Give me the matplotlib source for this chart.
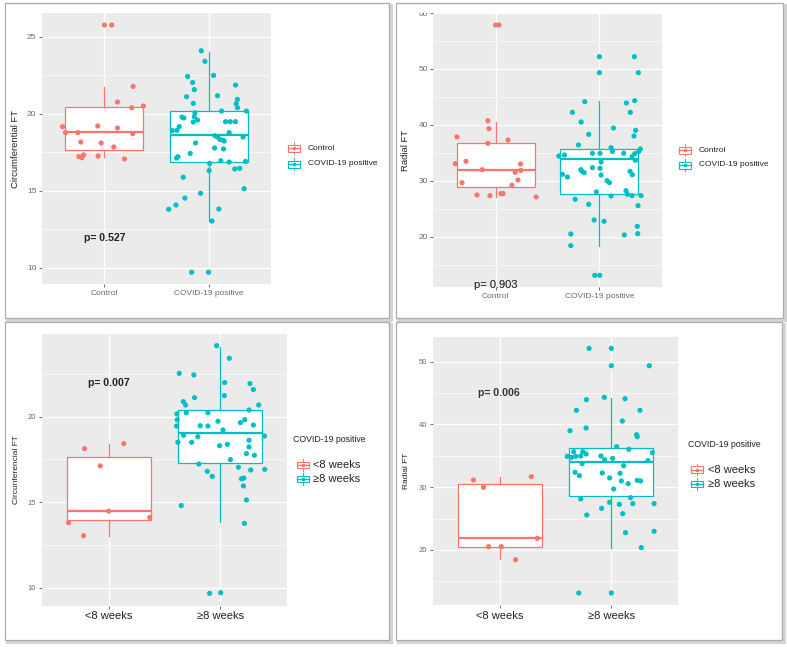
import matplotlib
matplotlib.use("Agg")
import matplotlib.pyplot as plt
from matplotlib.patches import Rectangle
from matplotlib.lines import Line2D
from matplotlib.transforms import Bbox, TransformedBbox
import numpy as np

plt.rcParams['font.family'] = ['Liberation Sans', 'DejaVu Sans']

RED = '#F8766D'
TEAL = '#00BFC4'

# ---------------- data ----------------
# Panel 1: Circumferential FT, Control vs COVID-19 positive
p1_categories = ['Control', 'COVID-19 positive']
p1_control_y = [25.76, 25.76, 21.77, 20.76, 20.39, 20.50, 19.16, 18.77, 18.77, 19.20,
                19.07, 18.70, 18.16, 18.10, 17.84, 17.21, 17.14, 17.32, 17.25, 17.06]
p1_control_jit = [0, .070, .275, .125, .262, .374, -.403, -.374, -.256, -.064,
                  .125, .272, -.227, -.032, .089, -.246, -.217, -.201, -.061, .192]
p1_covid_y = [24.09, 23.40, 22.49, 22.42, 22.03, 21.56, 21.86, 21.17, 21.10, 20.93,
              20.65, 20.39, 20.67, 20.17, 20.17, 20.06, 19.78, 19.72, 19.81, 19.59,
              19.46, 19.16, 18.92, 18.90, 19.48, 19.48, 19.48, 18.77, 18.57, 18.48,
              18.33, 18.27, 18.22, 18.48, 18.10, 17.77, 17.71, 17.42, 17.21, 17.12,
              16.77, 16.95, 16.86, 16.90, 16.41, 16.45, 16.30, 15.87, 15.13, 14.83,
              14.52, 14.07, 13.79, 13.81, 13.03, 9.70, 9.70]
p1_covid_jit = [-.070, -.035, .048, -.201, -.153, -.137, .259, .086, -.211, .278,
                .265, .278, -.147, .125, .364, -.131, -.256, -.236, -.137, -.105,
                -.147, -.281, -.304, -.348, .163, .208, .259, .198, .061, .086,
                .109, .141, .150, .332, -.125, .058, .144, -.176, -.294, -.307,
                .010, .118, .198, .355, .252, .300, .006, -.243, .342, -.077,
                -.227, -.313, -.383, .099, .032, -.163, 0]
# box stats: whislo, q1, med, q3, whishi
p1_box = [[17.17, 17.66, 18.79, 20.44, 21.75],
          [13.03, 16.86, 18.59, 20.17, 24.03]]

# Panel 2: Radial FT, Control vs COVID-19 positive
p2_categories = ['Control', 'COVID-19 positive']
p2_control_y = [57.86, 57.86, 40.77, 39.35, 37.32, 37.86, 36.73, 33.51, 33.10, 33.04,
                32.02, 31.90, 31.55, 30.18, 29.70, 29.23, 27.50, 27.38, 27.74, 27.74, 27.14]
p2_control_jit = [0, .032, -.074, -.064, .119, -.372, -.074, -.285, -.388, .240,
                  -.128, .244, .189, .215, -.324, .157, -.179, -.054, .051, .071, .391]
p2_covid_y = [52.2, 52.2, 49.35, 49.35, 44.35, 44.17, 43.93, 42.26, 42.26, 40.54,
              39.46, 39.05, 38.33, 38.04, 36.43, 35.95, 35.30, 35.71, 35.24, 34.88,
              34.46, 34.64, 34.94, 34.94, 34.94, 34.35, 33.69, 33.39, 32.38, 32.26,
              32.02, 31.73, 31.49, 31.19, 30.71, 31.07, 31.73, 31.13, 30.06, 29.70,
              28.04, 28.27, 27.62, 27.32, 27.38, 27.38, 26.73, 25.83, 25.60, 23.04,
              22.80, 20.54, 20.36, 21.90, 20.60, 18.45, 13.15, 13.15]
p2_covid_jit = [0, .337, 0, .375, .340, -.141, .260, -.260, .298, -.176,
                .135, .349, -.103, .333, -.202, .112, .125, .394, .378, .340,
                -.391, -.337, -.067, .006, .234, .314, .346, .016, -.067, .006,
                -.179, -.167, -.147, -.356, -.308, .016, .295, .317, .074, .096,
                -.029, .256, .269, .112, .314, .401, -.234, -.103, .372, -.051,
                .045, -.276, .240, .365, .369, -.276, -.045, .003]
p2_box = [[27.2, 28.87, 31.96, 36.85, 40.6],
          [18.45, 27.68, 33.99, 35.77, 44.35]]

# Panel 3: Circunferencial FT, <8 weeks vs >=8 weeks
p3_categories = ['<8 weeks', '≥8 weeks']
p3_lt8_y = [18.13, 18.42, 17.12, 14.48, 14.11, 13.80, 13.04]
p3_lt8_jit = [-.216, .135, -.075, 0, .368, -.359, -.225]
p3_ge8_y = [24.15, 23.41, 22.53, 22.44, 21.99, 21.93, 21.58, 21.11, 21.23, 20.88,
            20.68, 20.68, 20.39, 20.16, 20.23, 20.23, 19.82, 19.73, 19.65, 19.82,
            19.45, 19.47, 19.45, 19.51, 19.22, 18.91, 18.83, 18.87, 18.50, 18.50,
            18.62, 18.30, 18.38, 18.23, 17.84, 17.74, 17.49, 17.23, 17.04, 16.88,
            16.92, 16.80, 16.51, 16.37, 16.41, 15.95, 15.13, 14.80, 13.76, 9.67, 9.71]
p3_ge8_jit = [-.033, .081, -.368, -.237, .039, .266, .296, -.231, .036, -.332,
              -.311, .344, .257, -.389, -.305, -.111, -.386, -.021, .180, .219,
              -.392, -.180, -.111, .296, .024, -.329, -.201, .395, -.380, -.257,
              .257, -.006, .063, .257, .234, .305, .090, -.192, .162, .272,
              .398, -.117, -.072, .189, .210, .207, .234, -.350, .216, -.096, .003]
p3_box = [[13.02, 13.96, 14.50, 17.62, 18.38],
          [13.82, 17.27, 19.06, 20.37, 24.09]]

# Panel 4: Radial FT, <8 weeks vs >=8 weeks
p4_categories = ['<8 weeks', '≥8 weeks']
p4_lt8_y = [31.15, 31.68, 29.98, 20.53, 20.53, 21.85, 18.45]
p4_lt8_jit = [-.235, .283, -.145, -.099, .015, .337, .142]
p4_ge8_y = [52.12, 52.12, 49.36, 49.36, 44.32, 43.95, 44.10, 42.25, 42.25, 40.55,
            39.43, 39.00, 38.37, 38.05, 36.46, 36.03, 35.50, 35.66, 35.66, 35.29,
            34.92, 34.76, 34.92, 34.97, 34.97, 34.39, 34.60, 34.23, 33.43, 33.75,
            32.37, 31.84, 32.26, 32.21, 31.47, 30.99, 30.56, 31.09, 30.99, 29.71,
            28.12, 28.33, 27.38, 27.59, 27.27, 27.38, 26.63, 25.57, 25.78, 22.76,
            22.97, 20.37, 13.14, 13.14]
p4_ge8_jit = [-.199, 0, 0, .340, -.063, -.223, .123, -.313, .256, .099,
              -.226, -.370, .226, .232, .048, .157, .367, -.337, -.256, -.226,
              -.395, -.355, -.319, -.274, -.093, -.060, .012, .328, .111, -.262,
              -.325, -.286, -.081, .078, -.015, .090, .151, .232, .262, .021,
              -.274, .172, .193, -.015, .072, .383, -.087, -.220, .102, .127,
              .383, .268, -.292, 0]
p4_box = [[18.51, 20.53, 21.85, 30.56, 31.68],
          [20.37, 28.65, 33.96, 36.30, 44.21]]

p_values = ['p= 0.527', 'p= 0.903', 'p= 0.007', 'p= 0.006']

# ---------------- figure ----------------
W, H = 787, 647
fig = plt.figure(figsize=(W / 100, H / 100), dpi=100)
fig.patch.set_facecolor('white')


def fx(x):
    return x / W


def fy(y):
    return 1 - y / H


def add_axes_px(x0, y0, x1, y1):
    return fig.add_axes([fx(x0), fy(y1), fx(x1) - fx(x0), fy(y0) - fy(y1)])


# panel frames (paper-like with shadow)
frames = [(5, 3, 389, 318), (396, 3, 783, 318), (5, 322, 389, 640), (396, 322, 782, 640)]
for (x0, y0, x1, y1) in frames:
    fig.add_artist(Rectangle((fx(x0 + 1.5), fy(y1 + 1.5)), fx(x1 - x0), fy(y0) - fy(y1),
                             transform=fig.transFigure, facecolor='none',
                             edgecolor='#d4d4d4', lw=2.2, zorder=-3))
    fig.add_artist(Rectangle((fx(x0), fy(y1)), fx(x1 - x0), fy(y0) - fy(y1),
                             transform=fig.transFigure, facecolor='white',
                             edgecolor='#ababab', lw=0.9, zorder=-2))


def style_axes(ax, ylim, major, minor, xlabels, ylabel, xfs, xcol, yfs, ylabfs, labx):
    ax.set_facecolor('#EBEBEB')
    for s in ax.spines.values():
        s.set_visible(False)
    ax.set_xlim(0.4, 2.6)
    ax.set_ylim(*ylim)
    ax.set_yticks(major)
    ax.set_yticks(minor, minor=True)
    ax.set_xticks([1, 2])
    ax.set_xticklabels(xlabels)
    ax.grid(True, which='major', color='white', lw=1.0)
    ax.grid(True, which='minor', axis='y', color='white', lw=0.5)
    ax.set_axisbelow(True)
    ax.tick_params(axis='both', which='major', length=2.5, width=0.6, color='#555555', pad=1.5)
    ax.tick_params(axis='y', which='minor', length=0)
    ax.tick_params(axis='x', labelsize=xfs, labelcolor=xcol)
    ax.tick_params(axis='y', labelsize=yfs, labelcolor='#6a6a6a')
    ax.set_ylabel(ylabel, fontsize=ylabfs, color='#222222')
    ax.yaxis.set_label_coords(labx, 0.5)


def draw_boxes(ax, stats, colors):
    bxp_stats = []
    for s in stats:
        bxp_stats.append(dict(whislo=s[0], q1=s[1], med=s[2], q3=s[3], whishi=s[4], fliers=[]))
    for i, (st, c) in enumerate(zip(bxp_stats, colors)):
        ax.bxp([st], positions=[i + 1], widths=0.75, patch_artist=True, showcaps=False,
               showfliers=False,
               boxprops=dict(facecolor='white', edgecolor=c, lw=0.9),
               whiskerprops=dict(color=c, lw=0.9),
               medianprops=dict(color=c, lw=1.6, solid_capstyle='butt'),
               manage_ticks=False, zorder=2)


def draw_points(ax, pos, ys, jit, color):
    xs = pos + np.asarray(jit)
    ax.scatter(xs, ys, s=14, color=color, edgecolors='none', zorder=3)


def draw_key(cx, cy, color, w=12.5, h=7):
    fig.add_artist(Line2D([fx(cx), fx(cx)], [fy(cy - h / 2 - 2.5), fy(cy + h / 2 + 2.5)],
                          transform=fig.transFigure, color=color, lw=0.7, zorder=5))
    fig.add_artist(Rectangle((fx(cx - w / 2), fy(cy + h / 2)), fx(w), fy(0) - fy(h),
                             transform=fig.transFigure, facecolor='white', edgecolor=color,
                             lw=0.8, zorder=6))
    fig.add_artist(Line2D([fx(cx - w / 2), fx(cx + w / 2)], [fy(cy), fy(cy)],
                          transform=fig.transFigure, color=color, lw=1.0, zorder=7))
    fig.add_artist(Line2D([fx(cx)], [fy(cy)], transform=fig.transFigure, marker='o',
                          ms=2.6, color=color, mec='none', lw=0, zorder=8))


# ---- Panel 1
ax1 = add_axes_px(42, 13, 271, 284)
style_axes(ax1, (8.94, 26.54), [10, 15, 20, 25], [12.5, 17.5, 22.5], p1_categories,
           'Circumferential FT', 6, '#6a6a6a', 6, 6.8, -0.096)
draw_boxes(ax1, p1_box, [RED, TEAL])
draw_points(ax1, 1, p1_control_y, p1_control_jit, RED)
draw_points(ax1, 2, p1_covid_y, p1_covid_jit, TEAL)
ax1.text(1, 11.9, p_values[0], ha='center', va='center', fontsize=7.6, fontweight='bold', color='#222222')
draw_key(294, 148, RED)
draw_key(294, 164, TEAL)
fig.text(fx(308), fy(148), p1_categories[0], fontsize=6, va='center', color='#222222')
fig.text(fx(308), fy(164), p1_categories[1], fontsize=6, va='center', color='#222222')

# ---- Panel 2
ax2 = add_axes_px(433.3, 13, 661.7, 287)
style_axes(ax2, (11.07, 60.0), [20, 30, 40, 50, 60], [15, 25, 35, 45, 55], p2_categories,
           'Radial FT', 6, '#6a6a6a', 6, 6.8, -0.102)
draw_boxes(ax2, p2_box, [RED, TEAL])
draw_points(ax2, 1, p2_control_y, p2_control_jit, RED)
draw_points(ax2, 2, p2_covid_y, p2_covid_jit, TEAL)
ax2.text(1, 10.6, p_values[1], ha='center', va='bottom', fontsize=8, color='#111111',
         clip_on=False)
clip = TransformedBbox(Bbox([[fx(395), fy(318)], [fx(433), fy(13)]]), fig.transFigure)
for t in ax2.yaxis.get_major_ticks():
    t.label1.set_clip_box(clip)
    t.label1.set_clip_on(True)
draw_key(685, 150, RED)
draw_key(685, 165, TEAL)
fig.text(fx(699), fy(150), p2_categories[0], fontsize=6, va='center', color='#222222')
fig.text(fx(699), fy(165), p2_categories[1], fontsize=6, va='center', color='#222222')

# ---- Panel 3
ax3 = add_axes_px(41.7, 334, 287.3, 605.7)
style_axes(ax3, (8.95, 24.83), [10, 15, 20], [12.5, 17.5, 22.5], p3_categories,
           'Circunferencial FT', 8, '#222222', 5.5, 6.0, -0.087)
draw_boxes(ax3, p3_box, [RED, TEAL])
draw_points(ax3, 1, p3_lt8_y, p3_lt8_jit, RED)
draw_points(ax3, 2, p3_ge8_y, p3_ge8_jit, TEAL)
ax3.text(1, 21.99, p_values[2], ha='center', va='center', fontsize=7.6, fontweight='bold', color='#222222')
fig.text(fx(293), fy(440), 'COVID-19 positive', fontsize=6.3, va='center', color='#222222')
draw_key(303, 465, RED, w=11.5, h=6.5)
draw_key(303, 479, TEAL, w=11.5, h=6.5)
fig.text(fx(313), fy(465), p3_categories[0], fontsize=8, va='center', color='#222222')
fig.text(fx(313), fy(479), p3_categories[1], fontsize=8, va='center', color='#222222')

# ---- Panel 4
ax4 = add_axes_px(432.7, 336.7, 678.3, 605)
style_axes(ax4, (11.23, 53.98), [20, 30, 40, 50], [15, 25, 35, 45], p4_categories,
           'Radial FT', 8, '#222222', 5.5, 6.0, -0.092)
draw_boxes(ax4, p4_box, [RED, TEAL])
draw_points(ax4, 1, p4_lt8_y, p4_lt8_jit, RED)
draw_points(ax4, 2, p4_ge8_y, p4_ge8_jit, TEAL)
ax4.text(0.99, 44.95, p_values[3], ha='center', va='center', fontsize=7.6, fontweight='bold', color='#333333')
fig.text(fx(688), fy(444.3), 'COVID-19 positive', fontsize=6.3, va='center', color='#222222')
draw_key(697, 469.7, RED, w=11.5, h=6.5)
draw_key(697, 484, TEAL, w=11.5, h=6.5)
fig.text(fx(707.7), fy(469.7), p4_categories[0], fontsize=8, va='center', color='#222222')
fig.text(fx(707.7), fy(484), p4_categories[1], fontsize=8, va='center', color='#222222')

fig.savefig('out.png', dpi=100, facecolor='white')
